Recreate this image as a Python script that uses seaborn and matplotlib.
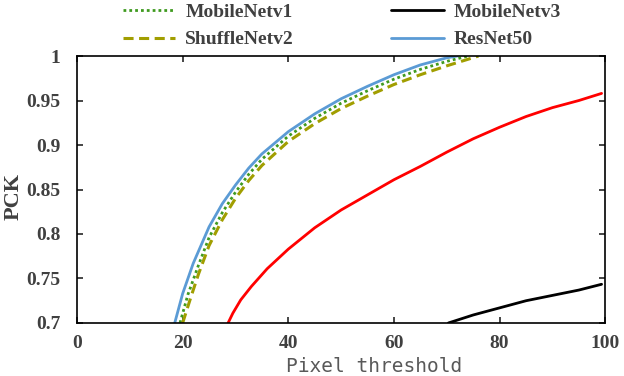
import matplotlib
matplotlib.use("Agg")
import matplotlib.pyplot as plt
import seaborn as sns

# values (x = pixel threshold, y = PCK)
resnet_x = [18.5, 20, 22, 25, 27.5, 30, 32.5, 35, 40, 45, 50, 55, 60, 65, 70, 72]
resnet_y = [0.70, 0.733, 0.767, 0.808, 0.834, 0.855, 0.874, 0.89, 0.915, 0.935, 0.952, 0.966, 0.979, 0.99, 0.998, 1.0]

mv1_x = [19.5, 21, 23, 25, 27.5, 30, 32.5, 35, 40, 45, 50, 55, 60, 65, 70, 74]
mv1_y = [0.70, 0.732, 0.765, 0.796, 0.824, 0.847, 0.867, 0.884, 0.91, 0.93, 0.947, 0.961, 0.974, 0.985, 0.994, 1.0]

shuffle_x = [20, 21.5, 23, 25, 27.5, 30, 32.5, 35, 40, 45, 50, 55, 60, 65, 70, 76]
shuffle_y = [0.70, 0.728, 0.755, 0.787, 0.816, 0.84, 0.86, 0.877, 0.904, 0.924, 0.941, 0.955, 0.968, 0.979, 0.989, 1.0]

red_x = [28.6, 29.5, 31, 33, 36, 40, 45, 50, 55, 60, 65, 70, 75, 80, 85, 90, 95, 99.3]
red_y = [0.70, 0.711, 0.726, 0.741, 0.761, 0.783, 0.807, 0.827, 0.844, 0.861, 0.876, 0.892, 0.907, 0.92, 0.932, 0.942, 0.95, 0.958]

mv3_x = [70.3, 75, 80, 85, 90, 95, 99.3]
mv3_y = [0.70, 0.709, 0.717, 0.725, 0.731, 0.737, 0.7435]

x_ticks = [0, 20, 40, 60, 80, 100]
y_ticks = [0.7, 0.75, 0.8, 0.85, 0.9, 0.95, 1.0]
y_tick_labels = ["0.7", "0.75", "0.8", "0.85", "0.9", "0.95", "1"]

sns.set_style("ticks")
plt.rcParams["font.family"] = ["Liberation Serif", "DejaVu Serif"]

fig = plt.figure(figsize=(6.24, 3.76), dpi=100)
ax = fig.add_axes([0.1234, 0.141, 0.8466, 0.710])

lw = 2.0
sns.lineplot(x=mv1_x, y=mv1_y, color="#3f9a1f", linestyle=(0, (1, 1.1)), linewidth=lw,
             label="MobileNetv1", ax=ax, legend=False, estimator=None, sort=False)
sns.lineplot(x=shuffle_x, y=shuffle_y, color="#a19e00", linestyle=(0, (3.3, 1.8)), linewidth=lw + 0.2,
             label="ShuffleNetv2", ax=ax, legend=False, estimator=None, sort=False)
sns.lineplot(x=mv3_x, y=mv3_y, color="black", linewidth=lw,
             label="MobileNetv3", ax=ax, legend=False, estimator=None, sort=False)
sns.lineplot(x=resnet_x, y=resnet_y, color="#5b9bd5", linewidth=lw,
             label="ResNet50", ax=ax, legend=False, estimator=None, sort=False)
sns.lineplot(x=red_x, y=red_y, color="#ff0000", linewidth=lw,
             ax=ax, legend=False, estimator=None, sort=False)

ax.set_xlim(0, 100)
ax.set_ylim(0.7, 1.0)
ax.set_xticks(x_ticks)
ax.set_yticks(y_ticks)
ax.set_yticklabels(y_tick_labels)

for side in ["left", "right", "top", "bottom"]:
    ax.spines[side].set_visible(True)
    ax.spines[side].set_color("black")
    ax.spines[side].set_linewidth(1.2)

ax.tick_params(axis="both", direction="in", length=4, width=1.2,
               top=True, right=True, labelsize=14, labelcolor="#404040")
ax.tick_params(axis="x", pad=9)
ax.tick_params(axis="y", pad=12)
for lab in ax.get_xticklabels() + ax.get_yticklabels():
    lab.set_fontweight("bold")

ax.set_ylabel("PCK", fontsize=16, fontweight="bold", color="#404040", va="center")
ax.yaxis.set_label_coords(-0.12, 0.472)
ax.set_xlabel("Pixel threshold", fontsize=14, color="#595959",
              family=["DejaVu Sans Mono"], va="center")
ax.xaxis.set_label_coords(0.562, -0.163)

handles, labels = ax.get_legend_handles_labels()
order = ["MobileNetv1", "ShuffleNetv2", "MobileNetv3", "ResNet50"]
hmap = dict(zip(labels, handles))
fig.legend([hmap[k] for k in order], order, loc="upper left",
           bbox_to_anchor=(0.197, 0.991), ncol=2, frameon=False,
           borderpad=0, borderaxespad=0, handlelength=2.7, handletextpad=0.5,
           columnspacing=5.0, labelspacing=0.5,
           prop={"family": ["Liberation Serif"], "weight": "bold", "size": 14},
           labelcolor="#404040")

fig.savefig("out.png", dpi=100)
